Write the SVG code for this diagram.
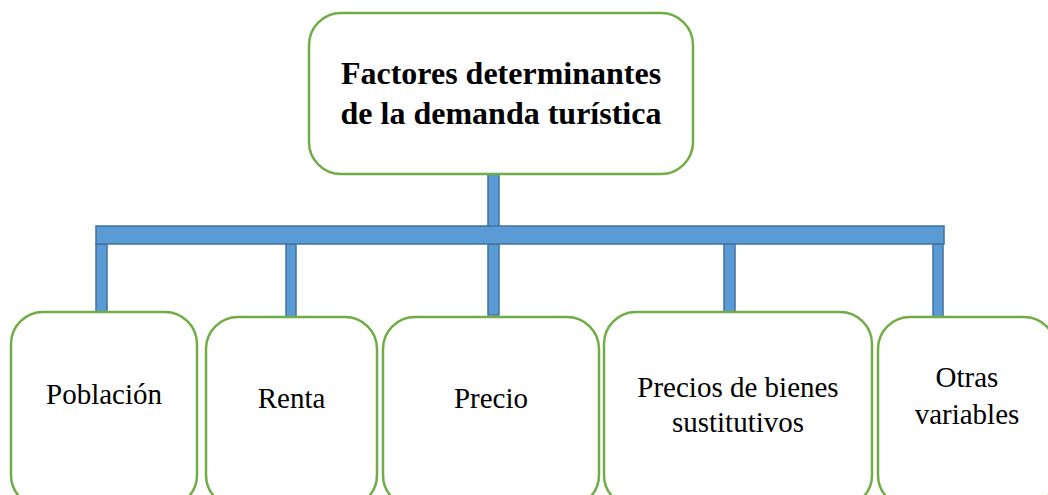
<svg xmlns="http://www.w3.org/2000/svg" width="1048" height="495" viewBox="0 0 1048 495">
<style>
.box{fill:#fff;stroke:#70AD47;stroke-width:2.5}
.bar{fill:#5B9BD5;stroke:#41719C;stroke-width:1.5}
text{font-family:"Liberation Serif","Times New Roman",serif;fill:#000;text-anchor:middle}
.t{font-size:29px;font-weight:normal}
.tb{font-size:32px;font-weight:bold}
</style>
<rect width="1048" height="495" fill="#fff"/>
<g id="connectors">
<rect class="bar" x="488" y="174" width="11" height="53"/>
<rect class="bar" x="96" y="244" width="11" height="69"/>
<rect class="bar" x="286" y="244" width="10" height="73"/>
<rect class="bar" x="488" y="244" width="11" height="71"/>
<rect class="bar" x="724" y="244" width="11" height="68"/>
<rect class="bar" x="933" y="244" width="10" height="73"/>
<rect class="bar" x="96" y="226" width="848" height="18"/>
</g>
<g id="root">
<rect class="box" x="309" y="13" width="384" height="161" rx="32"/>
<text class="tb" x="501" y="84">Factores determinantes</text>
<text class="tb" x="501" y="124">de la demanda turística</text>
</g>
<g id="poblacion">
<rect class="box" x="11" y="312" width="186" height="195" rx="32"/>
<text class="t" x="104" y="404">Población</text>
</g>
<g id="renta">
<rect class="box" x="206" y="317" width="171" height="190" rx="32"/>
<text class="t" x="291.5" y="408">Renta</text>
</g>
<g id="precio">
<rect class="box" x="383" y="317" width="216" height="190" rx="32"/>
<text class="t" x="491" y="408">Precio</text>
</g>
<g id="precios-sustitutivos">
<rect class="box" x="604" y="312" width="268" height="195" rx="32"/>
<text class="t" x="738" y="397">Precios de bienes</text>
<text class="t" x="738" y="432">sustitutivos</text>
</g>
<g id="otras">
<rect class="box" x="878" y="317" width="178" height="190" rx="32"/>
<text class="t" x="967" y="387">Otras</text>
<text class="t" x="967" y="424">variables</text>
</g>
</svg>
